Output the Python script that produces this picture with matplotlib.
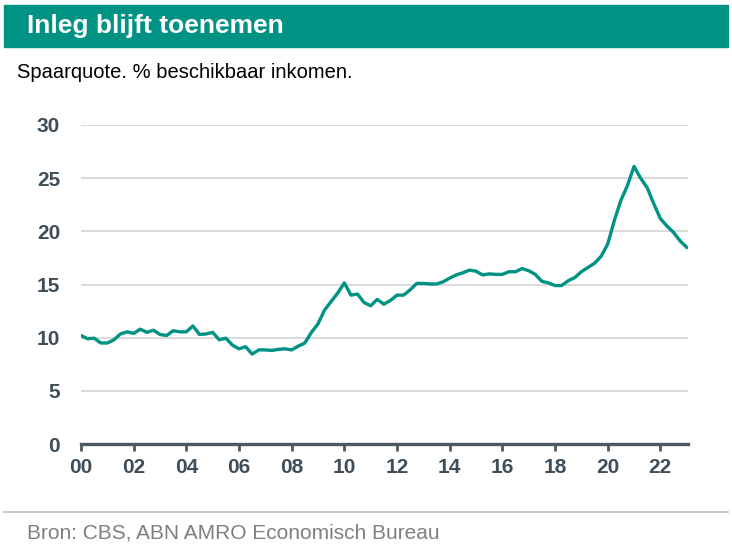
import numpy as np
import matplotlib.pyplot as plt
from matplotlib.patches import Rectangle
from matplotlib.lines import Line2D

# spaarquote per kwartaal, 2000K1 t/m 2023K1
savings_rate = [
    10.2, 9.9, 9.95, 9.5, 9.5, 9.8, 10.35, 10.55, 10.4, 10.8, 10.5, 10.7,
    10.3, 10.2, 10.65, 10.55, 10.55, 11.1, 10.3, 10.35, 10.5, 9.8, 9.95, 9.3,
    8.95, 9.15, 8.45, 8.85, 8.85, 8.8, 8.9, 8.95, 8.85, 9.2, 9.5, 10.5,
    11.3, 12.6, 13.4, 14.2, 15.15, 14.0, 14.1, 13.3, 13.0, 13.6, 13.15, 13.5,
    14.0, 14.0, 14.5, 15.1, 15.1, 15.05, 15.05, 15.25, 15.6, 15.9, 16.1, 16.35,
    16.25, 15.9, 16.0, 15.95, 15.95, 16.2, 16.2, 16.5, 16.3, 15.95, 15.3, 15.15,
    14.9, 14.9, 15.35, 15.65, 16.2, 16.6, 17.0, 17.65, 18.8, 21.0, 22.9, 24.3,
    26.1, 25.0, 24.1, 22.6, 21.2, 20.5, 19.9, 19.1, 18.5,
]
start_year = 2000
tick_years = list(range(2000, 2023, 2))
tick_labels = [f"{y % 100:02d}" for y in tick_years]
y_ticks = [0, 5, 10, 15, 20, 25, 30]

teal = "#009282"
label_col = "#3f4e59"

x = start_year + np.arange(len(savings_rate)) / 4

fig = plt.figure(figsize=(7.32, 5.52), dpi=100)
W, H = 732, 552

# title bar
fig.patches.append(Rectangle((4 / W, 1 - 46.5 / H), 724 / W, 42 / H,
                             transform=fig.transFigure, color=teal, zorder=0))
fig.text(27 / W, 1 - 26 / H, "Inleg blijft toenemen", color="white",
         fontsize=19, fontweight="bold", va="center", ha="left",
         family="Liberation Sans")
fig.text(17 / W, 1 - 73 / H, "Spaarquote. % beschikbaar inkomen.", color="black",
         fontsize=14.5, va="center", ha="left", family="Liberation Sans")

ax = fig.add_axes([81 / W, 1 - 444 / H, 607 / W, 319 / H])
ax.plot(x, savings_rate, color=teal, lw=2.4, solid_joinstyle="round", zorder=3)

ax.set_ylim(0, 30)
ax.set_xlim(2000, 2023.05)
ax.set_yticks(y_ticks)
ax.set_yticklabels([str(v) for v in y_ticks])
ax.set_xticks(tick_years)
ax.set_xticklabels(tick_labels)
for v in y_ticks[1:]:
    ax.axhline(v, color="#d9d9d9", lw=1.4, zorder=1)

for s in ["top", "right", "left"]:
    ax.spines[s].set_visible(False)
ax.spines["bottom"].set_color("#4a5860")
ax.spines["bottom"].set_linewidth(2.4)
ax.tick_params(axis="y", length=0, pad=15)
ax.tick_params(axis="x", length=5, width=2, color="#4a5860", pad=5)
for lab in ax.get_xticklabels() + ax.get_yticklabels():
    lab.set_fontweight("bold")
    lab.set_fontsize(15)
    lab.set_color(label_col)
    lab.set_family("Liberation Sans")

# source line
fig.lines.append(Line2D([4 / W, 728 / W], [1 - 512 / H, 1 - 512 / H],
                        transform=fig.transFigure, color="#bfbfbf", lw=1.2))
fig.text(27 / W, 1 - 533 / H, "Bron: CBS, ABN AMRO Economisch Bureau",
         color="#7f7f7f", fontsize=15, va="center", ha="left", family="Liberation Sans")

fig.savefig("out.png", dpi=100)
